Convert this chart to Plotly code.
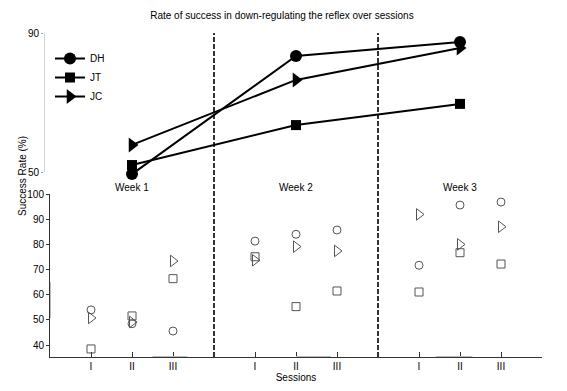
import plotly.graph_objects as go

# ---- data ----
weeks = ["Week 1", "Week 2", "Week 3"]
week_pos = [2, 6, 10]
session_labels = ["I", "II", "III", "I", "II", "III", "I", "II", "III"]
session_pos = [1, 2, 3, 5, 6, 7, 9, 10, 11]
separators = [4, 8]

# weekly averages (top panel)
dh_week = [49.4, 83.4, 87.4]
jt_week = [52.0, 63.5, 69.6]
jc_week = [57.8, 76.5, 85.7]

# per-session values (bottom panel)
dh_sess = [54.0, 48.5, 45.6, 81.3, 84.0, 85.7, 71.7, 95.6, 96.8]
jt_sess = [38.5, 51.6, 66.4, 75.1, 55.3, 61.5, 61.1, 76.7, 72.2]
jc_sess = [50.8, 49.2, 73.4, 73.7, 79.1, 77.4, 91.9, 80.0, 87.0]

FONT = "Liberation Sans, Arial, sans-serif"
fig = go.Figure()

# top panel lines
for name, vals, sym, size in [("DH", dh_week, "circle", 12),
                              ("JT", jt_week, "square", 10),
                              ("JC", jc_week, "triangle-right", 13)]:
    fig.add_trace(go.Scatter(x=week_pos, y=vals, name=name, mode="lines+markers",
                             xaxis="x2", yaxis="y2",
                             line=dict(color="black", width=2),
                             marker=dict(symbol=sym, size=size, color="black"),
                             cliponaxis=False))

# bottom panel open markers
for vals, sym, size in [(dh_sess, "circle-open", 8),
                        (jt_sess, "square-open", 8),
                        (jc_sess, "triangle-right-open", 10)]:
    fig.add_trace(go.Scatter(x=session_pos, y=vals, mode="markers", showlegend=False,
                             xaxis="x", yaxis="y",
                             marker=dict(symbol=sym, size=size, color="#555",
                                         line=dict(width=1, color="#555")),
                             cliponaxis=False))

# the page body has an 8px margin, so the figure is drawn 8px smaller
W, H = 559, 383
L, R, T, B = 36, 25, 25, 34
pw = W - L - R
ph = H - T - B
off = 6 / pw
x2_min = 1 - 47 / 41
top_lo, top_hi = 48, 90           # top panel range (labels only at 50 and 90)
px_per_unit_top = (172 - 33) / 40

shapes = []
for s in separators:
    shapes.append(dict(type="line", xref="x", yref="paper", x0=s, x1=s, y0=0, y1=1.0,
                       line=dict(color="black", width=1.6, dash="5px,2px")))
# top panel axis line, only between 50 and 90
shapes.append(dict(type="line", xref="x2", yref="y2", x0=x2_min, x1=x2_min, y0=50, y1=90,
                   line=dict(color="#aaa", width=1)))
# faint light-grey segments on the axes (as in the source image)
for a, b in [(2.5, 3.35), (6.0, 6.85), (10.0 - 24 / 41, 10.3)]:
    shapes.append(dict(type="line", xref="x", yref="y", x0=a, x1=b, y0=35.3, y1=35.3,
                       line=dict(color="#bbb", width=2)))
shapes.append(dict(type="line", xref="x", yref="y", x0=0, x1=0, y0=50.8, y1=65,
                   line=dict(color="#bbb", width=2)))

annotations = []
for w, p in zip(weeks, week_pos):
    annotations.append(dict(text=w, x=p, xref="x", y=0.522, yref="paper",
                            showarrow=False, font=dict(size=10, color="black", family=FONT)))
annotations.append(dict(text="Success Rate (%)", textangle=-90, x=-0.042, xref="paper",
                        xanchor="center", yanchor="middle",
                        y=0.559, yref="paper", showarrow=False,
                        font=dict(size=10, color="black", family=FONT)))

top_bottom_px = 172 + (50 - top_lo) * px_per_unit_top

fig.update_layout(
    width=W, height=H,
    margin=dict(l=L, r=R, t=T, b=B, autoexpand=False),
    paper_bgcolor="white", plot_bgcolor="white",
    font=dict(family=FONT, size=10, color="black"),
    title=dict(text="Rate of success in down-regulating the reflex over sessions",
               x=0.49, xanchor="center", y=0.98, yanchor="middle",
               font=dict(size=10, color="black", family=FONT)),
    xaxis=dict(domain=[off, 1], range=[0, 12], tickvals=session_pos, ticktext=session_labels,
               ticks="inside", ticklen=5, tickcolor="#333", showline=True, linecolor="#333",
               linewidth=1, showgrid=False, zeroline=False, anchor="y", automargin=False,
               tickfont=dict(color="black", size=10),
               title=dict(text="Sessions", standoff=2, font=dict(size=10, color="black"))),
    yaxis=dict(domain=[0, (357 - 194) / ph], range=[35.3, 100],
               tickvals=[40, 50, 60, 70, 80, 90, 100], ticks="outside", ticklen=3,
               tickcolor="#333", showline=True, linecolor="#333", linewidth=1,
               showgrid=False, zeroline=False, anchor="x", automargin=False,
               tickfont=dict(color="black", size=10)),
    xaxis2=dict(domain=[0, 1], range=[x2_min, 12], visible=False, anchor="y2"),
    yaxis2=dict(domain=[(357 - top_bottom_px) / ph, 1], range=[top_lo, top_hi],
                tickvals=[50, 90], ticks="outside", ticklen=2, tickcolor="#aaa",
                showline=False, showgrid=False, zeroline=False,
                anchor="x2", automargin=False, tickfont=dict(color="black", size=10)),
    legend=dict(x=0.012, y=0.966, xanchor="left", yanchor="top", bgcolor="rgba(0,0,0,0)",
                font=dict(size=10, family=FONT, color="black"), tracegroupgap=0, itemwidth=30),
    shapes=shapes, annotations=annotations,
)

fig.write_html("out.html")
